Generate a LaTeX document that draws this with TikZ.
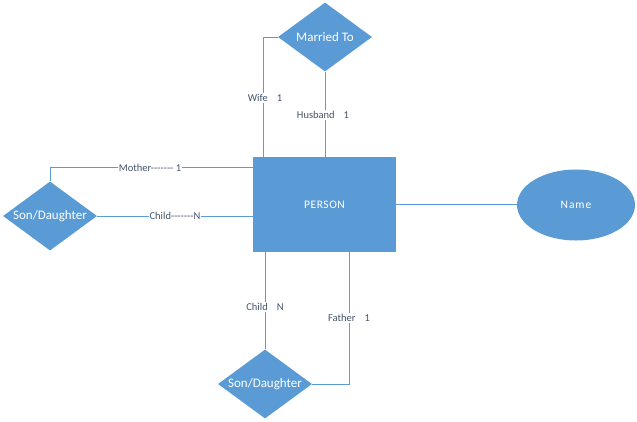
\documentclass[tikz,border=0pt]{standalone}
\usepackage{fontspec}
\setmainfont{Carlito}
\usetikzlibrary{shapes.geometric}
\definecolor{obl}{HTML}{5B9BD5}
\definecolor{lbltxt}{HTML}{44546A}
\tikzset{
  ent/.style={rectangle, fill=obl, draw=none, text=white, minimum width=143pt, minimum height=95pt, inner sep=0pt, font=\fontsize{11.5}{13}\selectfont\addfontfeature{LetterSpace=5}},
  rel/.style={diamond, fill=obl, draw=none, text=white, aspect=1.35, inner sep=0pt, minimum width=94pt, minimum height=69pt, font=\fontsize{13}{15}\selectfont},
  attr/.style={ellipse, fill=obl, draw=none, text=white, minimum width=118pt, minimum height=71pt, inner sep=0pt, font=\fontsize{11.5}{13}\selectfont\addfontfeature{LetterSpace=8}},
  conn/.style={draw=obl, line width=0.9pt},
  lbl/.style={fill=white, text=lbltxt, inner sep=1pt, font=\fontsize{10.5}{12}\selectfont}
}
\begin{document}
\begin{tikzpicture}[x=1pt, y=-1pt]
\useasboundingbox (0,0) rectangle (637,421);
\node[ent] (person) at (324.5,204.5) {PERSON};
\node[rel] (married) at (325,37) {Married To};
\node[rel] (sdl) at (50,216) {Son/Daughter};
\node[rel] (sdb) at (265,384) {Son/Daughter};
\node[attr] (name) at (576,205) {Name};
% connectors
\draw[conn] (married.west) -| ([xshift=11pt]person.north west);
\draw[conn] (married.south) -- (married.south |- person.north);
\draw[conn] (sdl.north) |- ([yshift=-11pt]person.north west);
\draw[conn] (sdl.east) -- (sdl.east -| person.west);
\draw[conn] (sdb.north) -- (sdb.north |- person.south);
\draw[conn] (sdb.east) -| ([xshift=-47pt]person.south east);
\draw[conn] (person.east) -- (person.east -| name.west);
% labels
\node[lbl] (lwife) at (265,98) {Wife\hspace{9pt}1};
\node[lbl] (lhusb) at (323,115) {Husband\hspace{9pt}1};
\node[lbl] (lmoth) at (150,168) {Mother-{}-{}-{}-{}-{}-{}- 1};
\node[lbl] (lchl) at (175,216) {Child-{}-{}-{}-{}-{}-{}-N};
\node[lbl] (lchb) at (265,307) {Child\hspace{9pt}N};
\node[lbl] (lfath) at (349,318) {Father\hspace{9pt}1};
\end{tikzpicture}
\end{document}
